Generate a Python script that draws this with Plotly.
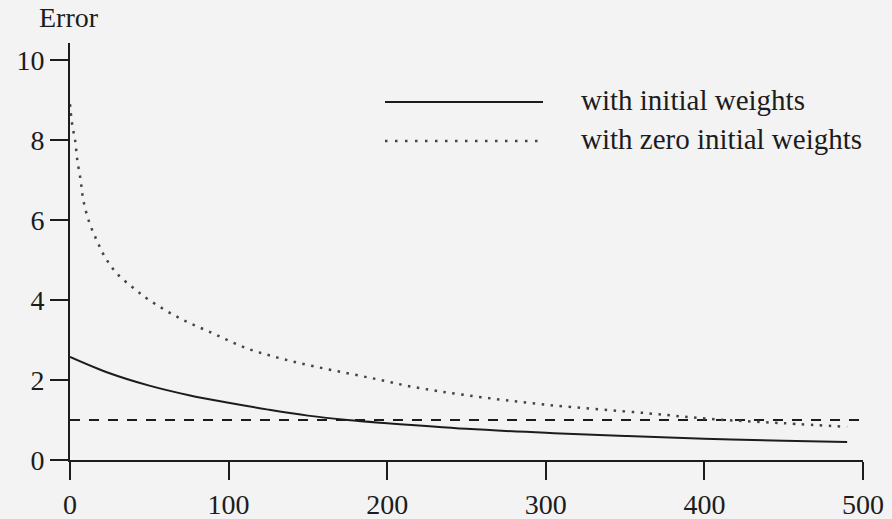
import plotly.graph_objects as go

# ---- data ----
solid_x = [0, 25, 50, 75, 100, 125, 150, 175, 200, 250, 300, 350, 400, 450, 490]
solid_y = [2.58, 2.17, 1.86, 1.62, 1.43, 1.26, 1.11, 1.00, 0.92, 0.78, 0.68, 0.60, 0.53, 0.48, 0.45]

dot_x = [0, 1, 2, 3.2, 4.6, 6.7, 8.4, 12, 16.8, 22, 29.4, 40, 50, 69, 90, 111, 132, 153,
         175, 196, 216, 250, 301, 364, 406, 450, 490]
dot_y = [8.9, 8.5, 8.25, 8.0, 7.5, 7.0, 6.5, 5.96, 5.5, 5.08, 4.67, 4.3, 4.0, 3.55, 3.17,
         2.8, 2.55, 2.35, 2.17, 2.0, 1.83, 1.62, 1.38, 1.17, 1.02, 0.92, 0.83]

ref_x = [0, 500]
ref_y = [1.0, 1.0]

x_ticks = [0, 100, 200, 300, 400, 500]
y_ticks = [0, 2, 4, 6, 8, 10]

legend_labels = ["with initial weights", "with zero initial weights"]
y_title = "Error"

FONT = "Liberation Serif"
INK = "#1c1c1c"
DOT = "#444444"
BG = "#f3f3f3"

fig = go.Figure()
fig.add_trace(go.Scatter(x=ref_x, y=ref_y, mode="lines",
                         line=dict(color=INK, width=2, dash="10px,9px"), showlegend=False))
fig.add_trace(go.Scatter(x=dot_x, y=dot_y, mode="lines", line_shape="spline",
                         line=dict(color=DOT, width=2.5, dash="2.5px,6.5px"), showlegend=False))
fig.add_trace(go.Scatter(x=solid_x, y=solid_y, mode="lines", line_shape="spline",
                         line=dict(color=INK, width=2), showlegend=False))

# plot area geometry (pixels) for legend placement in paper coords
L, R, T, B = 70, 863, 43, 460
def px(xp):
    return (xp - L) / (R - L)
def py(yp):
    return (B - yp) / (B - T)

# legend drawn manually
rows = [(102, "solid", INK, 2), (141, "2.5px,7.5px", DOT, 2.5)]
for (yy, dash, col, w), lab in zip(rows, legend_labels):
    fig.add_shape(type="line", xref="paper", yref="paper",
                  x0=px(385), x1=px(543), y0=py(yy), y1=py(yy),
                  line=dict(color=col, width=w, dash=dash))
    fig.add_annotation(xref="paper", yref="paper", x=px(579), y=py(yy - 2),
                       text=lab, showarrow=False, xanchor="left", yanchor="middle",
                       font=dict(family=FONT, size=29, color=INK))

fig.add_annotation(xref="paper", yref="paper", x=px(69), y=1, yshift=8,
                   text=y_title, showarrow=False, xanchor="center", yanchor="bottom",
                   font=dict(family=FONT, size=28, color=INK))

axis_common = dict(showgrid=False, zeroline=False, showline=True, linecolor=INK, linewidth=2,
                   ticks="outside", ticklen=18, tickwidth=2, tickcolor=INK, automargin=False,
                   tickfont=dict(family=FONT, size=28, color=INK))

fig.update_xaxes(range=[0, 500], tickvals=x_ticks, **axis_common)
fig.update_yaxes(range=[0, 10.43], tickvals=y_ticks, **axis_common)

fig.update_layout(width=892, height=519, margin=dict(l=L, r=892 - R, t=T, b=519 - B),
                  paper_bgcolor=BG, plot_bgcolor=BG)

fig.write_html("out.html")
